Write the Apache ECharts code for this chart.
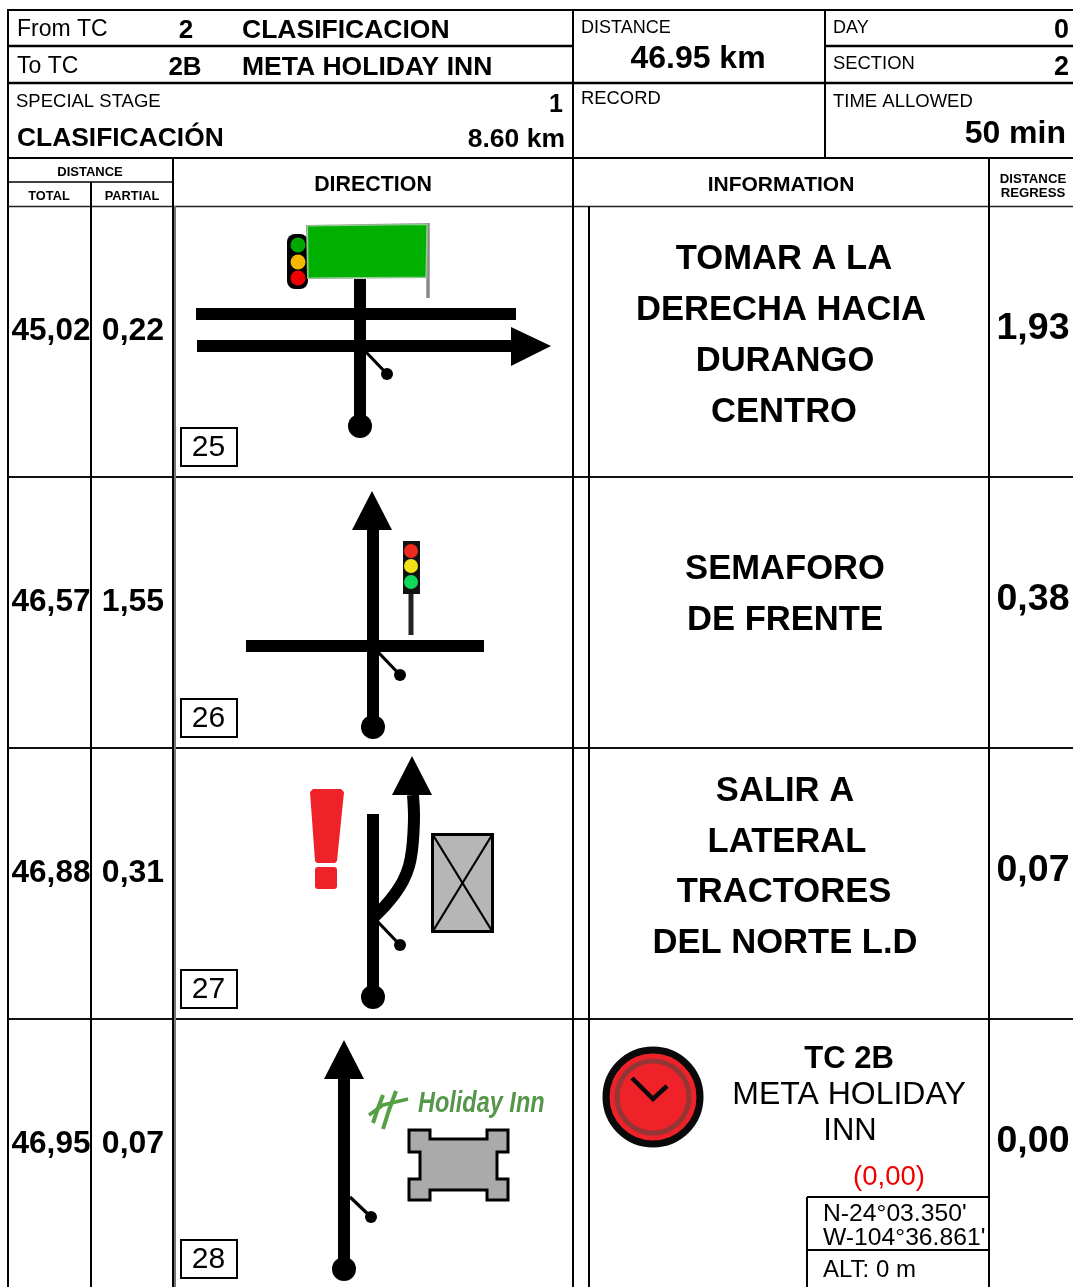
<!DOCTYPE html>
<html><head><meta charset="utf-8">
<style>html,body{margin:0;padding:0;background:#fff}#c{width:1073px;height:1287px}</style>
<script src="https://cdn.jsdelivr.net/npm/echarts@6/dist/echarts.min.js"></script>
</head><body><div id="c"></div>
<script>
// ---- roadbook values ----
var totals   = ['45,02','46,57','46,88','46,95'];
var partials = ['0,22','1,55','0,31','0,07'];
var regress  = ['1,93','0,38','0,07','0,00'];
var boxIds   = ['25','26','27','28'];
var infoLines = [['TOMAR A LA','DERECHA HACIA','DURANGO','CENTRO'],['SEMAFORO','DE FRENTE'],['SALIR A','LATERAL','TRACTORES','DEL NORTE L.D']];
var fromTc = ['From TC','2','CLASIFICACION'];
var toTc = ['To TC','2B','META HOLIDAY INN'];
var stage = ['SPECIAL STAGE','1','CLASIFICACIÓN','8.60 km'];
var distance = ['DISTANCE','46.95 km'];
var day = ['DAY','0'];
var section = ['SECTION','2'];
var timeAllowed = ['TIME ALLOWED','50 min'];
var endTc = ['TC 2B','META HOLIDAY','INN','(0,00)'];
var coords = ["N-24°03.350'","W-104°36.861'",'ALT: 0 m'];

// ---- scene, in the units of the two hidden axes ----
var FONT='"Liberation Sans",Arial,sans-serif';
var items=[];
function L(pts,w,c,round,smooth){items.push({k:'line',pts:pts,w:w,c:c||'#000',round:round,smooth:smooth});}
function S(x1,y1,x2,y2,w,c){L([[x1,y1],[x2,y2]],w,c);}
function P(pts,fill,stroke,w){items.push({k:'poly',pts:pts,fill:fill,stroke:stroke,w:w||0});}
function C(x,y,r,fill,stroke,w){items.push({k:'circ',x:x,y:y,r:r,fill:fill,stroke:stroke,w:w||0});}
function R(x,y,a,b,fill,stroke,w,r){items.push({k:'rect',x:x,y:y,a:a,b:b,fill:fill,stroke:stroke,w:w||0,r:r||0});}
function T(t,x,y,size,bold,align,color,extra){items.push({k:'text',t:t,x:x,y:y+2,size:size,bold:bold,align:align||'center',color:color||'#000',extra:extra});}

var rowTops=[206,477,748,1019];

// table rules
S(7,10,1073,10,2);
S(8,9,8,1287,2);
S(8,46,573,46,2.5); S(825,46,1073,46,2.5);
S(8,83,1073,83,2.5);
S(8,158,1073,158,2);
S(8,182,173,182,1.5);
S(8,206.5,1073,206.5,1.5,'#222');
rowTops.slice(1).forEach(function(y){S(8,y,1073,y,1.8,'#111');});
S(573,9,573,1287,2);
S(825,9,825,158,2);
S(91,182,91,1287,2);
S(173,158,173,1287,2);
S(175,206,175,1287,2,'#777');
S(589,206,589,1287,2);
S(989,158,989,1287,2);

// header texts
T(fromTc[0],17,28,23,0,'left'); T(fromTc[1],186,29,26,1); T(fromTc[2],242,29,26.5,1,'left');
T(toTc[0],17,65,23,0,'left'); T(toTc[1],185,66,26,1); T(toTc[2],242,66,26.5,1,'left');
T(stage[0],16,100,18.5,0,'left'); T(stage[1],563,103,25,1,'right');
T(stage[2],17,137,26.4,1,'left'); T(stage[3],565,138,26.5,1,'right');
T(distance[0],581,26,18,0,'left'); T(distance[1],698,57,32,1);
T(day[0],833,26,18,0,'left'); T(day[1],1069,29,27,1,'right');
T(section[0],833,62,18.4,0,'left'); T(section[1],1069,66,27,1,'right');
T('RECORD',581,97,18.4,0,'left');
T(timeAllowed[0],833,100,18.5,0,'left'); T(timeAllowed[1],1066,132,32,1,'right');
T('DISTANCE',90,170,13,1); T('TOTAL',49,194,12.8,1); T('PARTIAL',132,194,12.8,1);
T('DIRECTION',373,183,21.4,1); T('INFORMATION',781,183,21,1);
T('DISTANCE',1033,177,13.2,1); T('REGRESS',1033,191,13.2,1);

// row numbers
var infoX=[[784,781,785,784],[785,785],[785,787,784,785]];
var infoY=[[257,308,359,410],[567,618],[789,840,890,941]];
totals.forEach(function(v,i){
  var m=rowTops[i]+123;
  T(v,51,m,31.5,1); T(partials[i],133,m,32,1);
  T(regress[i],1033,m-2,37.5,1);
  var by=[428,699,970,1240][i];
  R(181,by,56,38,'#fff','#000',2);
  T(boxIds[i],208.5,by+18,30,0);
  if(infoLines[i]) infoLines[i].forEach(function(s,j){T(s,infoX[i][j],infoY[i][j],34.6,1);});
});

function stem(x,y1,y2){S(x,y1,x,y2,12); C(x,y2,12,'#000');}
function twig(x1,y1,x2,y2){S(x1,y1,x2,y2,3.2); C(x2,y2,6,'#000');}
function arrowUp(x,tip){P([[x,tip],[x-20,tip+39],[x+20,tip+39]],'#000');}

// diagram 25
R(287,234,21,55,'#000',null,0,8);
C(298,245,7.5,'#00a800'); C(298,262,7.5,'#f5b800'); C(298,278,7.5,'#f00000');
S(428,223,428,298,3.5,'#8a8a8a');
P([[306,225],[428,223],[428,278],[307,279]],'#9c9c9c');
P([[307.5,226],[427,224.5],[426,277],[308,278]],'#00b000','#8fd68f',1.2);
stem(360,279,426);
S(196,314,516,314,12);
S(197,346,513,346,12);
P([[511,327],[551,346],[511,366]],'#000');
twig(365,351,387,374);

// diagram 26
arrowUp(372,491);
stem(373,530,727);
S(246,646,484,646,12);
twig(378,652,400,675);
R(403,541,17,53,'#111');
C(411,551,7,'#ee2a1e'); C(411,566,7,'#f2e21a'); C(411,582,7,'#12d85a');
S(411,594,411,635,5,'#222');

// diagram 27
P([[310,792],[313,789],[341,789],[344,792],[337,861],[335,863],[317,863],[315,861]],'#ee2228');
R(315,867,22,22,'#ee2228',null,0,3);
stem(373,814,997);
L([[375,916],[384,907],[394,895],[403,881],[409,866],[412,850],[413.5,832],[414,815],[413,795]],12,'#000',true,0.4);
arrowUp(412,756);
twig(378,922,400,945);
R(432.5,834.5,60,97,'#b5b6b5','#000',3);
S(433,835,492,931,2.2); S(492,835,433,931,2.2);

// diagram 28
arrowUp(344,1040);
stem(344,1079,1269);
twig(350,1197,371,1217);
L([[383,1095],[378,1108],[373,1123]],4,'#55a044',true);
L([[396,1091],[389,1110],[383,1129]],4,'#55a044',true);
L([[369,1115],[383,1105],[408,1099]],3.5,'#55a044',true);
T('Holiday Inn',418,1102,29,1,'left','#55964a','narrow');
P([[409,1130],[430,1130],[430,1139],[487,1139],[487,1130],[508,1130],[508,1152],[497,1152],[497,1179],[508,1179],[508,1200],[487,1200],[487,1190],[430,1190],[430,1200],[409,1200],[409,1179],[420,1179],[420,1152],[409,1152]],'#aaaaaa','#000',3);

// time control panel
C(653,1097,47,'#ee2228','#0a0a0a',7);
C(653,1097,36,'none','#953636',5);
L([[632,1078],[653,1099],[667,1086]],4.5,'#0a0a0a');
T(endTc[0],849,1057,31,1);
T(endTc[1],849,1093,32,0);
T(endTc[2],850,1129,31,0);
T(endTc[3],889,1175,27.5,0,'center','#f00000');
S(807,1197,989,1197,2); S(807,1197,807,1287,2); S(807,1250,989,1250,2);
T(coords[0],823,1212,24.7,0,'left');
T(coords[1],823,1236,24.7,0,'left');
T(coords[2],823,1268,24,0,'left');

// ---- draw everything through the axes ----
function render(params,api){
  var it=items[params.dataIndex];
  function pt(p){return api.coord(p);}
  if(it.k==='line'){
    return {type:'polyline',silent:true,shape:{points:it.pts.map(pt),smooth:it.smooth||0},
      style:{fill:null,stroke:it.c,lineWidth:it.w,lineCap:'butt',lineJoin:it.round?'round':'miter'}};
  }
  if(it.k==='poly'){
    return {type:'polygon',silent:true,shape:{points:it.pts.map(pt)},
      style:{fill:it.fill,stroke:it.stroke||null,lineWidth:it.w,lineJoin:'miter'}};
  }
  if(it.k==='circ'){
    var c=pt([it.x,it.y]);
    return {type:'circle',silent:true,shape:{cx:c[0],cy:c[1],r:it.r},
      style:{fill:it.fill==='none'?null:it.fill,stroke:it.stroke||null,lineWidth:it.w}};
  }
  if(it.k==='rect'){
    var a=pt([it.x,it.y]);
    return {type:'rect',silent:true,shape:{x:a[0],y:a[1],width:it.a,height:it.b,r:it.r},
      style:{fill:it.fill,stroke:it.stroke||null,lineWidth:it.w}};
  }
  var q=pt([it.x,it.y]);
  var font=(it.bold?'bold ':'')+it.size+'px '+FONT;
  var el={type:'text',silent:true,x:q[0],y:q[1],
    style:{text:it.t,fill:it.color,font:font,align:it.align,verticalAlign:'middle'}};
  if(it.extra==='narrow'){
    el.style.font='italic bold '+it.size+'px '+FONT;
    el.scaleX=0.81;
  }
  return el;
}
var chart=echarts.init(document.getElementById('c'),null,{renderer:'canvas',width:1073,height:1287});
chart.setOption({
  animation:false,backgroundColor:'#fff',
  grid:{left:0,right:0,top:0,bottom:0,containLabel:false},
  xAxis:{type:'value',min:0,max:1073,show:false},
  yAxis:{type:'value',min:0,max:1287,inverse:true,show:false},
  tooltip:{show:false},
  series:[{type:'custom',coordinateSystem:'cartesian2d',clip:false,silent:true,
    renderItem:render,data:items.map(function(it,i){return [i];}),encode:{x:0}}]
});
</script></body></html>
